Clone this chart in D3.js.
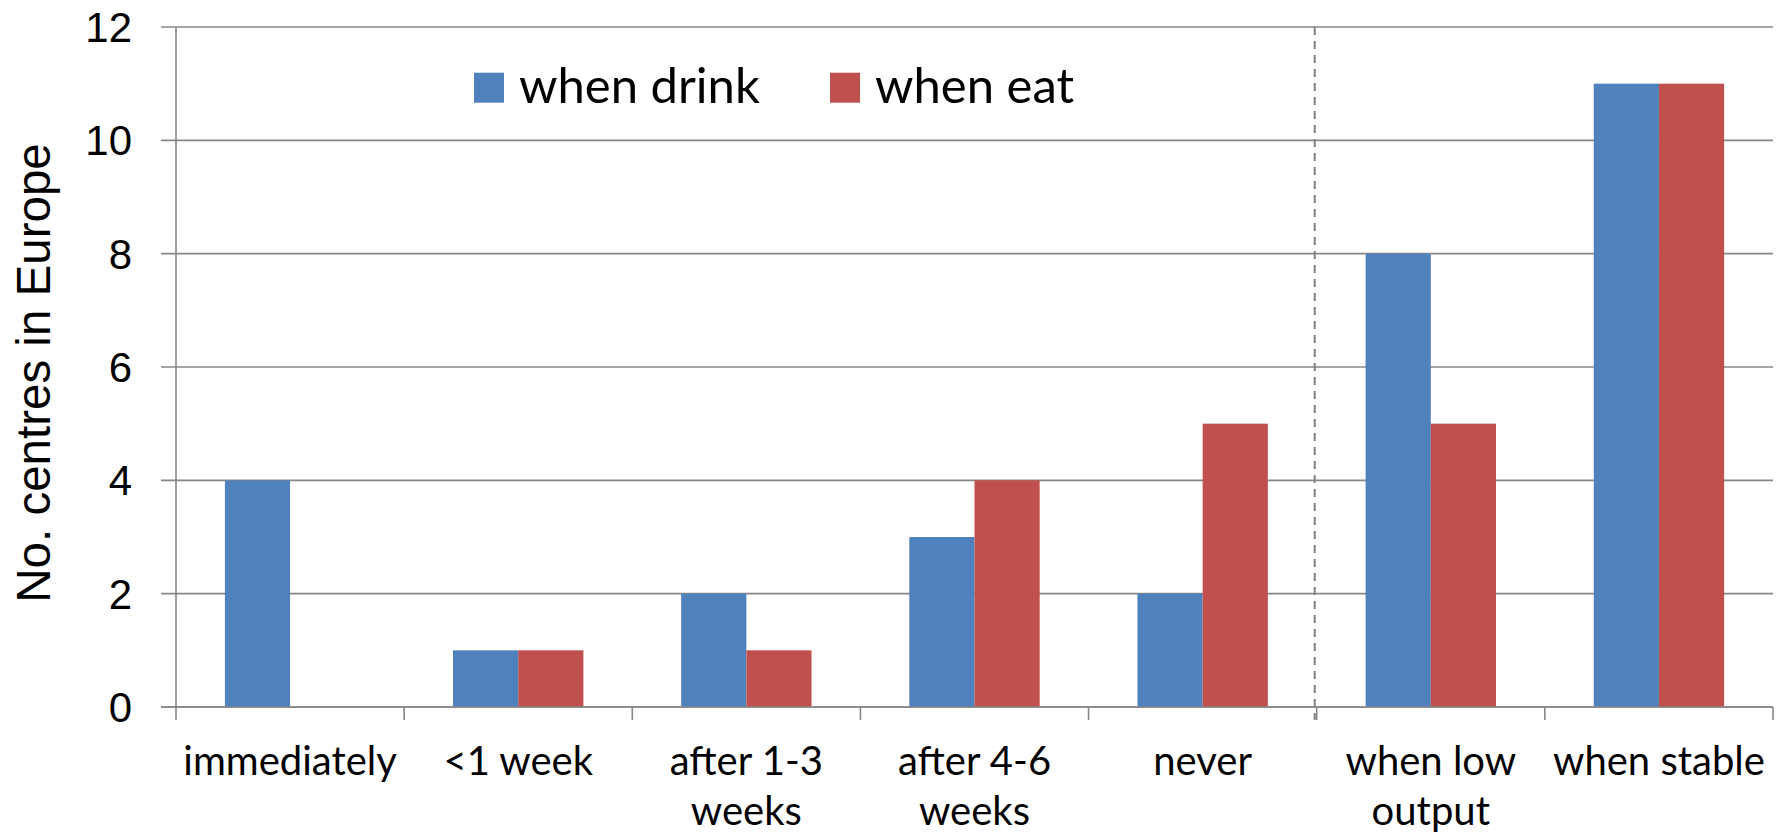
<!DOCTYPE html>
<html>
<head>
<meta charset="utf-8">
<script src="https://cdn.jsdelivr.net/npm/d3@7/dist/d3.min.js"></script>
<style>
  html, body { margin: 0; padding: 0; background: #fff; }
  svg { display: block; }
</style>
</head>
<body>
<svg id="chart" width="1779" height="834"></svg>
<script>
// Categories (a "\n" splits a label over two lines)
const categories = [
  "immediately",
  "<1 week",
  "after 1-3\nweeks",
  "after 4-6\nweeks",
  "never",
  "when low\noutput",
  "when stable"
];
const seriesNames = ["when drink", "when eat"];
const whenDrink = [4, 1, 2, 3, 2, 8, 11];
const whenEat   = [0, 1, 1, 4, 5, 5, 11];
const yTicks = [0, 2, 4, 6, 8, 10, 12];
// The dashed divider sits after this category
const dividerAfter = "never";

const colors = { "when drink": "#4F81BD", "when eat": "#C0504D" };
const gridColor = "#878787";

const W = 1779, H = 834;
const margin = { top: 27, right: 6, bottom: 127, left: 176 };
const innerW = W - margin.left - margin.right;
const innerH = H - margin.top - margin.bottom;

const svg = d3.select("#chart");
const g = svg.append("g").attr("transform", `translate(${margin.left},${margin.top})`);

const x0 = d3.scaleBand()
  .domain(categories)
  .range([0, innerW])
  .paddingInner(1.5 / 3.5)
  .paddingOuter(0.75 / 3.5);

const x1 = d3.scaleBand()
  .domain(seriesNames)
  .range([0, x0.bandwidth()])
  .padding(0);

const y = d3.scaleLinear().domain([0, 12]).range([innerH, 0]);

const step = x0.step();
const tickLen = 13;

// Horizontal gridlines with short outward ticks
g.append("g")
  .selectAll("line")
  .data(yTicks)
  .join("line")
  .attr("x1", -15)
  .attr("x2", innerW)
  .attr("y1", d => y(d))
  .attr("y2", d => y(d))
  .attr("stroke", gridColor)
  .attr("stroke-width", 1.6);

// Vertical value axis line
g.append("line")
  .attr("x1", 0).attr("x2", 0)
  .attr("y1", y(12)).attr("y2", innerH + tickLen)
  .attr("stroke", gridColor)
  .attr("stroke-width", 1.6);

// Category boundary ticks
const boundaries = d3.range(categories.length + 1).map(i => i * step);
g.append("g")
  .selectAll("line")
  .data(boundaries.slice(1))
  .join("line")
  .attr("x1", d => d).attr("x2", d => d)
  .attr("y1", innerH).attr("y2", innerH + tickLen)
  .attr("stroke", gridColor)
  .attr("stroke-width", 1.6);

// Y tick labels
g.append("g")
  .selectAll("text")
  .data(yTicks)
  .join("text")
  .attr("x", -44)
  .attr("y", d => y(d) + 15)
  .attr("text-anchor", "end")
  .attr("font-family", "'Liberation Sans', Arial, sans-serif")
  .attr("font-size", 42)
  .attr("fill", "#000")
  .text(d => d);

// Bars
const rows = categories.map((c, i) => ({
  category: c,
  values: [
    { key: "when drink", value: whenDrink[i] },
    { key: "when eat", value: whenEat[i] }
  ]
}));

g.append("g")
  .selectAll("g")
  .data(rows)
  .join("g")
  .attr("transform", d => `translate(${x0(d.category)},0)`)
  .selectAll("rect")
  .data(d => d.values.filter(v => v.value > 0))
  .join("rect")
  .attr("x", d => x1(d.key))
  .attr("y", d => y(d.value))
  .attr("width", x1.bandwidth())
  .attr("height", d => innerH - y(d.value))
  .attr("fill", d => colors[d.key]);

// Redraw the baseline over the bars
g.append("line")
  .attr("x1", -15).attr("x2", innerW)
  .attr("y1", innerH).attr("y2", innerH)
  .attr("stroke", gridColor)
  .attr("stroke-width", 1.6);

// Dashed divider
const divX = (categories.indexOf(dividerAfter) + 1) * step - 2;
g.append("line")
  .attr("x1", divX).attr("x2", divX)
  .attr("y1", y(12)).attr("y2", innerH + tickLen)
  .attr("stroke", "#808080")
  .attr("stroke-width", 2)
  .attr("stroke-dasharray", "8,6");

// Category labels
const labelFont = "Lato, 'Open Sans', sans-serif";
const xl = g.append("g")
  .selectAll("text")
  .data(categories)
  .join("text")
  .attr("text-anchor", "middle")
  .attr("font-family", labelFont)
  .attr("font-size", 40)
  .attr("fill", "#000")
  .attr("transform", d => `translate(${x0(d) + x0.bandwidth() / 2},${innerH + 68})`);
xl.selectAll("tspan")
  .data(d => d.split("\n"))
  .join("tspan")
  .attr("x", 0)
  .attr("y", (d, i) => i * 50)
  .text(d => d);

// Y axis title
svg.append("text")
  .attr("transform", `translate(50,${373}) rotate(-90)`)
  .attr("text-anchor", "middle")
  .attr("font-family", "'Liberation Sans', Arial, sans-serif")
  .attr("font-size", 47.5)
  .attr("fill", "#000")
  .text("No. centres in Europe");

// Legend
const legendPos = [474, 830];
const legend = svg.append("g")
  .selectAll("g")
  .data(seriesNames)
  .join("g")
  .attr("transform", (d, i) => `translate(${legendPos[i]},72.7)`);
legend.append("rect")
  .attr("width", 30).attr("height", 30)
  .attr("fill", d => colors[d]);
legend.append("text")
  .attr("x", 45).attr("y", 30)
  .attr("font-family", labelFont)
  .attr("font-size", 49)
  .attr("fill", "#000")
  .text(d => d);
</script>
</body>
</html>
